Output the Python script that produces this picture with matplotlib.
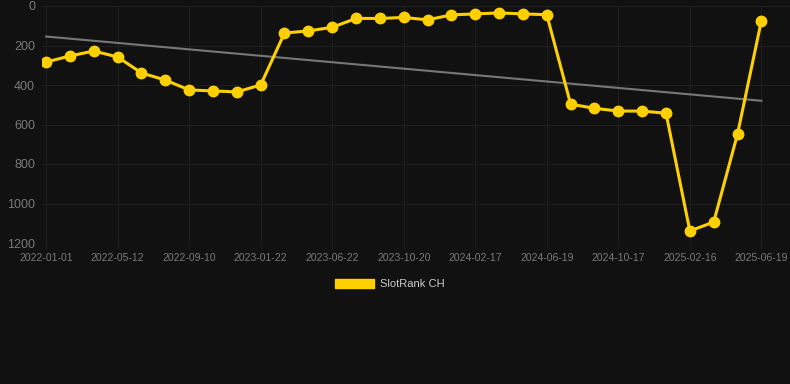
import numpy as np
import matplotlib.pyplot as plt
from matplotlib.patches import Patch

plt.rcParams['font.family'] = ['Liberation Sans', 'DejaVu Sans']

tick_labels = ['2022-01-01', '2022-05-12', '2022-09-10', '2023-01-22', '2023-06-22',
               '2023-10-20', '2024-02-17', '2024-06-19', '2024-10-17', '2025-02-16',
               '2025-06-19']
rank = [284, 253, 228, 258, 339, 375, 425, 430, 435, 400,
        137, 126, 108, 63, 63, 58, 70, 45, 40, 35,
        40, 44, 497, 518, 532, 532, 543, 1139, 1094, 648, 74]

x = np.arange(len(rank))
slope, icept = np.polyfit(x, rank, 1)

fig = plt.figure(figsize=(7.9, 3.84), dpi=100)
fig.patch.set_facecolor('#111111')
ax = fig.add_axes([42/790, 1 - 243/384, 748/790, 237/384])
ax.set_facecolor('#111111')

ax.plot(x, slope*x + icept, color='#777777', lw=1.5, zorder=2)
ax.plot(x, rank, color='#FFD000', lw=2.2, marker='o', ms=7.5, zorder=3)

ax.set_xlim(-0.17, 31.2)
ax.set_ylim(1200, 0)
ax.set_yticks(range(0, 1201, 200))
ax.set_xticks(x[::3])
ax.set_xticklabels(tick_labels)
ax.grid(color='#1e1e1e', lw=0.8)
for s in ax.spines.values():
    s.set_visible(False)
ax.tick_params(axis='x', colors='#1e1e1e', labelcolor='#7a7a7a', labelsize=7.5, length=4, pad=3)
ax.tick_params(axis='y', length=0, labelcolor='#7a7a7a', labelsize=9, pad=5)

fig.legend(handles=[Patch(color='#FFD000')], labels=['SlotRank CH'],
           loc='center', bbox_to_anchor=(390/790, 1 - 284/384), frameon=False,
           labelcolor='#cccccc', fontsize=8, handlelength=3.5, handleheight=0.9,
           handletextpad=0.6)

fig.savefig('out.png', dpi=100, facecolor=fig.get_facecolor())
